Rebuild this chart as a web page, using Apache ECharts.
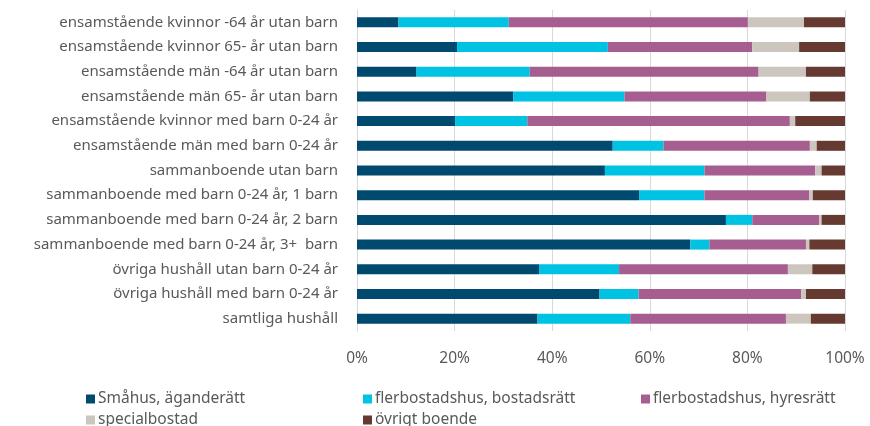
<!DOCTYPE html>
<html>
<head>
<meta charset="utf-8">
<script src="https://cdn.jsdelivr.net/npm/echarts@6/dist/echarts.min.js"></script>
<style>
html, body { margin: 0; padding: 0; background: #fff; }
#main { width: 870px; height: 426px; }
</style>
</head>
<body>
<div id="main"></div>
<script>
var dom = document.getElementById('main')
var chart = echarts.init(dom)

var categories = [
    'ensamstående kvinnor -64 år utan barn',
    'ensamstående kvinnor 65- år utan barn',
    'ensamstående män -64 år utan barn',
    'ensamstående män 65- år utan barn',
    'ensamstående kvinnor med barn 0-24 år',
    'ensamstående män med barn 0-24 år',
    'sammanboende utan barn',
    'sammanboende med barn 0-24 år, 1 barn',
    'sammanboende med barn 0-24 år, 2 barn',
    'sammanboende med barn 0-24 år, 3+  barn',
    'övriga hushåll utan barn 0-24 år',
    'övriga hushåll med barn 0-24 år',
    'samtliga hushåll'
];

var seriesNames = ['Småhus, äganderätt', 'flerbostadshus, bostadsrätt', 'flerbostadshus, hyresrätt', 'specialbostad', 'övrigt boende'];

// shares in %
var smahus = [8.5, 20.5, 12.2, 32.0, 20.1, 52.4, 50.8, 57.8, 75.6, 68.3, 37.3, 49.7, 37.0];
var bostadsratt = [22.6, 30.9, 23.2, 22.8, 14.8, 10.4, 20.4, 13.4, 5.4, 3.9, 16.4, 8.0, 19.0];
var hyresratt = [49.0, 29.6, 46.9, 29.1, 53.8, 30.0, 22.7, 21.5, 13.7, 19.8, 34.6, 33.3, 31.9];
var specialbostad = [11.5, 9.6, 9.7, 8.9, 1.1, 1.4, 1.3, 0.7, 0.5, 0.7, 5.0, 1.0, 5.1];
var ovrigt = [8.4, 9.4, 8.0, 7.2, 10.2, 5.8, 4.8, 6.6, 4.8, 7.3, 6.7, 8.0, 7.0];

var xTicks = [0, 20, 40, 60, 80, 100];

var colors = ['#004a70', '#00c2e3', '#a65e90', '#cdc6be', '#663a30'];
var allData = [smahus, bostadsratt, hyresratt, specialbostad, ovrigt];

var font = 'Noto Sans';
var legendPos = [[81, 386], [358, 386], [636, 386], [81, 407], [358, 407]];

var options = {
    animation: false,
    color: colors,
    grid: { left: 357, right: 25, top: 10, bottom: 95 },
    xAxis: {
        type: 'value',
        min: 0,
        max: 100,
        interval: 20,
        axisLabel: {
            formatter: function (v) { return xTicks.indexOf(v) >= 0 ? v + '%' : '' },
            color: '#595959',
            fontFamily: font,
            fontSize: 15.5,
            margin: 20
        },
        axisLine: { show: false },
        axisTick: { show: false },
        splitLine: { lineStyle: { color: '#d9d9d9', width: 1 } }
    },
    yAxis: {
        type: 'category',
        inverse: true,
        data: categories,
        axisLabel: {
            color: '#595959',
            fontFamily: font,
            fontSize: 15,
            margin: 19
        },
        axisLine: { show: true, lineStyle: { color: '#d9d9d9' } },
        axisTick: { show: false }
    },
    legend: seriesNames.map(function (n, i) {
        return {
            data: [n],
            left: legendPos[i][0],
            top: legendPos[i][1],
            itemWidth: 9,
            itemHeight: 9,
            icon: 'rect',
            itemGap: 3,
            textStyle: { color: '#595959', fontFamily: font, fontSize: 15.5, padding: [0, 0, 0, -2] }
        }
    }),
    series: seriesNames.map(function (n, i) {
        return {
            name: n,
            type: 'bar',
            stack: 'total',
            barWidth: 10,
            data: allData[i],
            itemStyle: { color: colors[i] }
        }
    })
}

chart.setOption(options)
</script>
</body>
</html>
